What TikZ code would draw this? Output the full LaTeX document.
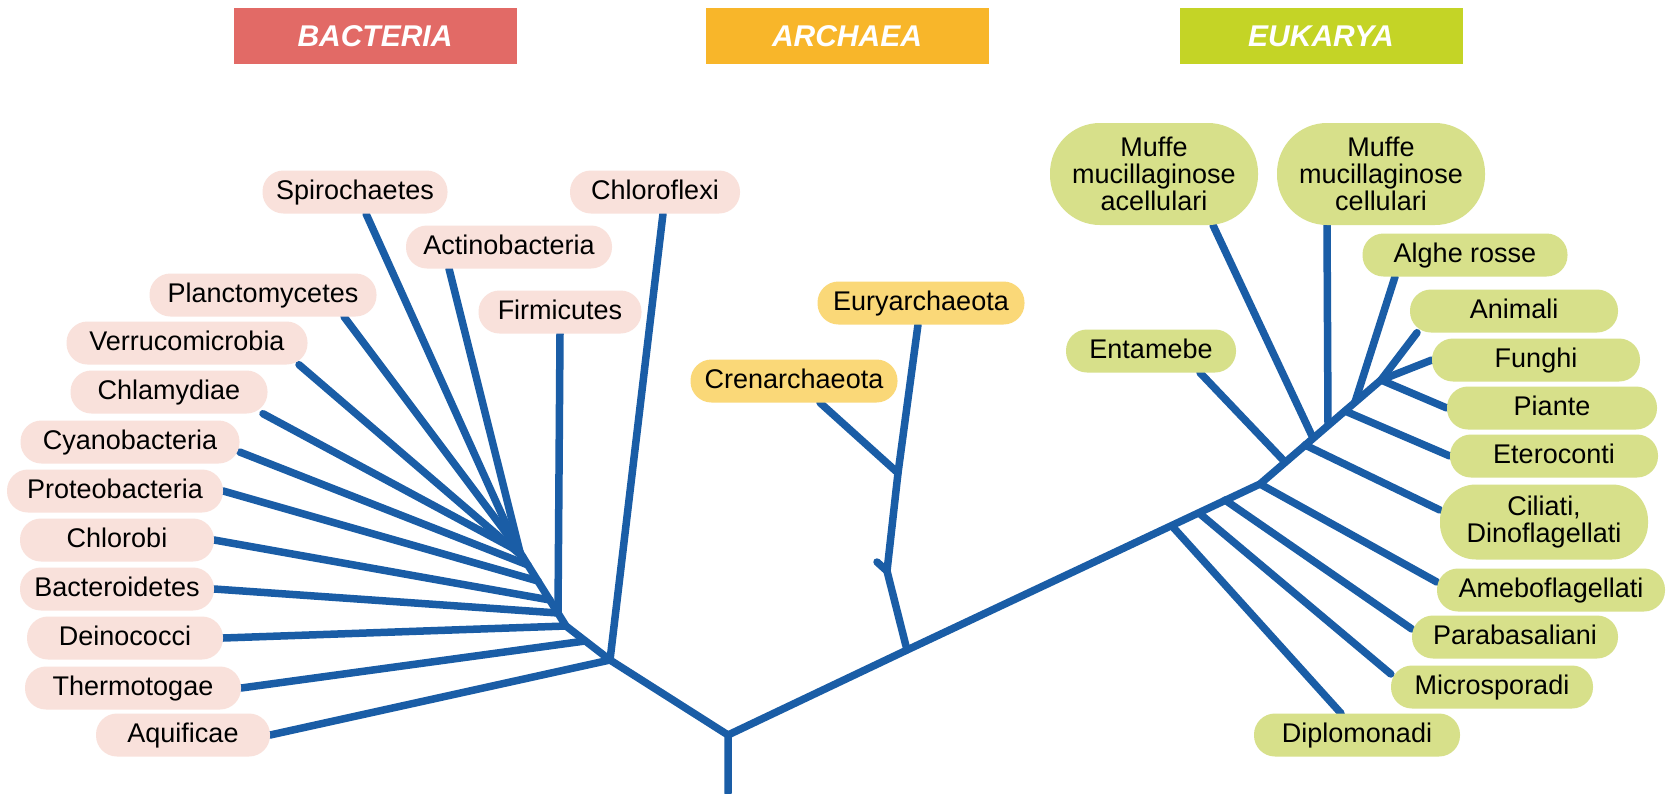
\documentclass[tikz,border=0pt]{standalone}
\usepackage{fontspec}
\setmainfont{Liberation Sans}
\usetikzlibrary{backgrounds}

\definecolor{branchblue}{HTML}{1A5DA6}
\definecolor{bactred}{HTML}{E26A66}
\definecolor{archorange}{HTML}{F8B62A}
\definecolor{eukgreen}{HTML}{C4D426}
\definecolor{bactpill}{HTML}{F9E1DB}
\definecolor{archpill}{HTML}{FAD878}
\definecolor{eukpill}{HTML}{D7E08A}
\tikzset{
    % Domain headers
    tl head/.style={minimum width=283pt, minimum height=56pt, inner sep=0pt,
                    text=white, font=\fontsize{30}{32}\selectfont\bfseries\itshape},
    % Leaf pills
    tl pill/.style={rounded corners=21pt, minimum height=43pt, inner sep=0pt,
                    text height=19pt, text depth=5pt,
                    font=\fontsize{27}{28}\selectfont},
    tl tall/.style={inner sep=0pt, align=center,
                    font=\fontsize{27}{27}\selectfont},
    tl bact/.style={tl pill, fill=bactpill},
    tl arch/.style={tl pill, fill=archpill},
    tl euk/.style={tl pill, fill=eukpill},
    tl euk tall/.style={tl tall, fill=eukpill},
    % Tree
    tl branch/.style={draw=branchblue, line width=7.5pt,
                      line cap=round, line join=round},
}

\begin{document}
\begin{tikzpicture}[x=1pt, y=-1pt]
    \useasboundingbox (0,0) rectangle (1671,793);
    % Domain headers
    \node[tl head, fill=bactred] (hbact) at (375,36) {BACTERIA};
    \node[tl head, fill=archorange] (harch) at (847,36) {ARCHAEA};
    \node[tl head, fill=eukgreen] (heuk) at (1321,36) {EUKARYA};
    % Bacteria
    \node[tl bact, minimum width=185pt] (spiro) at (355,192) {Spirochaetes};
    \node[tl bact, minimum width=170pt] (chloro) at (655,192) {Chloroflexi};
    \node[tl bact, minimum width=206pt] (actino) at (509,247) {Actinobacteria};
    \node[tl bact, minimum width=227pt] (plancto) at (263,295) {Planctomycetes};
    \node[tl bact, minimum width=163pt] (firmi) at (560,312) {Firmicutes};
    \node[tl bact, minimum width=241pt] (verruco) at (187,343) {Verrucomicrobia};
    \node[tl bact, minimum width=197pt] (chlamy) at (169,392) {Chlamydiae};
    \node[tl bact, minimum width=219pt] (cyano) at (130,442) {Cyanobacteria};
    \node[tl bact, minimum width=216pt] (proteo) at (115,491) {Proteobacteria};
    \node[tl bact, minimum width=194pt] (chlorobi) at (117,540) {Chlorobi};
    \node[tl bact, minimum width=194pt] (bactero) at (117,589) {Bacteroidetes};
    \node[tl bact, minimum width=196pt] (deino) at (125,638) {Deinococci};
    \node[tl bact, minimum width=216pt] (thermo) at (133,688) {Thermotogae};
    \node[tl bact, minimum width=174pt] (aquif) at (183,735) {Aquificae};
    % Archaea
    \node[tl arch, minimum width=207pt] (eury) at (921,303) {Euryarchaeota};
    \node[tl arch, minimum width=207pt] (creno) at (794,381) {Crenarchaeota};
    % Eukarya
    \node[tl euk tall, rounded corners=50pt, minimum width=208pt,
          minimum height=102pt] (muffeA) at (1154,174)
          {Muffe\\mucillaginose\\acellulari};
    \node[tl euk tall, rounded corners=50pt, minimum width=208pt,
          minimum height=102pt] (muffeC) at (1381,174)
          {Muffe\\mucillaginose\\cellulari};
    \node[tl euk, minimum width=205pt] (alghe) at (1465,255) {Alghe rosse};
    \node[tl euk, minimum width=208pt] (animali) at (1514,311) {Animali};
    \node[tl euk, minimum width=170pt] (entam) at (1151,351) {Entamebe};
    \node[tl euk, minimum width=208pt] (funghi) at (1536,360) {Funghi};
    \node[tl euk, minimum width=210pt] (piante) at (1552,408) {Piante};
    \node[tl euk, minimum width=208pt] (etero) at (1554,456) {Eteroconti};
    \node[tl euk tall, rounded corners=36pt, minimum width=208pt,
          minimum height=75pt] (ciliati) at (1544,522)
          {Ciliati,\\Dinoflagellati};
    \node[tl euk, minimum width=228pt] (amebo) at (1551,590) {Ameboflagellati};
    \node[tl euk, minimum width=206pt] (paraba) at (1515,637) {Parabasaliani};
    \node[tl euk, minimum width=202pt] (micro) at (1492,687) {Microsporadi};
    \node[tl euk, minimum width=206pt] (diplo) at (1357,735) {Diplomonadi};
    % Junctions: root and bacteria fan
    \coordinate (root) at (728,793);
    \coordinate (rJ) at (728,735);
    \coordinate (bJ) at (610,660);
    \coordinate (b7) at (585,641);
    \coordinate (bM) at (566,626);
    \coordinate (b6) at (558,613);
    \coordinate (b5) at (550,600);
    \coordinate (b4) at (538,581);
    \coordinate (b3) at (528,565);
    \coordinate (b2) at (523,557);
    \coordinate (b1) at (520,552);
    \coordinate (bT) at (516,546);
    % Junctions: archaea
    \coordinate (aBase) at (907,650);
    \coordinate (a1) at (887,571);
    \coordinate (aStub) at (877,562);
    \coordinate (a2) at (898,473);
    % Junctions: eukarya
    \coordinate (e1) at (1172,526);
    \coordinate (e2) at (1199,513);
    \coordinate (e3) at (1225,500);
    \coordinate (e4) at (1260,484);
    \coordinate (e5) at (1285,462);
    \coordinate (e6) at (1305,445);
    \coordinate (e7) at (1313,438);
    \coordinate (e8) at (1328,425);
    \coordinate (e9) at (1345,411);
    \coordinate (e10) at (1355,402);
    \coordinate (e11) at (1381,380);
    \begin{scope}[on background layer]
        \fill[white] (0,0) rectangle (1671,793);
        % Trunk
        \draw[tl branch] (root) -- (rJ) -- (bJ) -- (bM) -- (bT);
        \draw[tl branch] (rJ) -- (aBase) -- (e4) -- (e11);
        % Bacteria branches
        \draw[tl branch] ([xshift=11pt]spiro.south) -- (bT);
        \draw[tl branch] ([xshift=81pt]plancto.south) -- (bT);
        \draw[tl branch] ([xshift=-60pt]actino.south) -- (b1);
        \draw[tl branch] ([xshift=94pt]chlamy.south) -- (b1);
        \draw[tl branch] ([xshift=112pt]verruco.south) -- (b2);
        \draw[tl branch] ([yshift=-10pt]cyano.east) -- (b3);
        \draw[tl branch] (proteo.east) -- (b4);
        \draw[tl branch] (chlorobi.east) -- (b5);
        \draw[tl branch] (firmi.south) -- (b6);
        \draw[tl branch] (bactero.east) -- (b6);
        \draw[tl branch] (deino.east) -- (bM);
        \draw[tl branch] (thermo.east) -- (b7);
        \draw[tl branch] (aquif.east) -- (bJ);
        \draw[tl branch] ([xshift=8pt]chloro.south) -- (bJ);
        % Archaea branches
        \draw[tl branch] (aBase) -- (a1) -- (a2) -- ([xshift=-3pt]eury.south);
        \draw[tl branch] (a1) -- (aStub);
        \draw[tl branch] ([xshift=26pt]creno.south) -- (a2);
        % Eukarya branches
        \draw[tl branch] ([xshift=-16pt]diplo.north) -- (e1);
        \draw[tl branch] ([yshift=13pt]micro.west) -- (e2);
        \draw[tl branch] ([yshift=8pt]paraba.west) -- (e3);
        \draw[tl branch] ([yshift=8pt]amebo.west) -- (e4);
        \draw[tl branch] ([xshift=49pt]entam.south) -- (e5);
        \draw[tl branch] ([yshift=12pt]ciliati.west) -- (e6);
        \draw[tl branch] ([xshift=59pt]muffeA.south) -- (e7);
        \draw[tl branch] ([xshift=-54pt]muffeC.south) -- (e8);
        \draw[tl branch] (etero.west) -- (e9);
        \draw[tl branch] ([xshift=-70pt]alghe.south) -- (e10);
        \draw[tl branch] ([xshift=-97pt]animali.south) -- (e11);
        \draw[tl branch] (funghi.west) -- (e11);
        \draw[tl branch] (piante.west) -- (e11);
    \end{scope}
\end{tikzpicture}
\end{document}
